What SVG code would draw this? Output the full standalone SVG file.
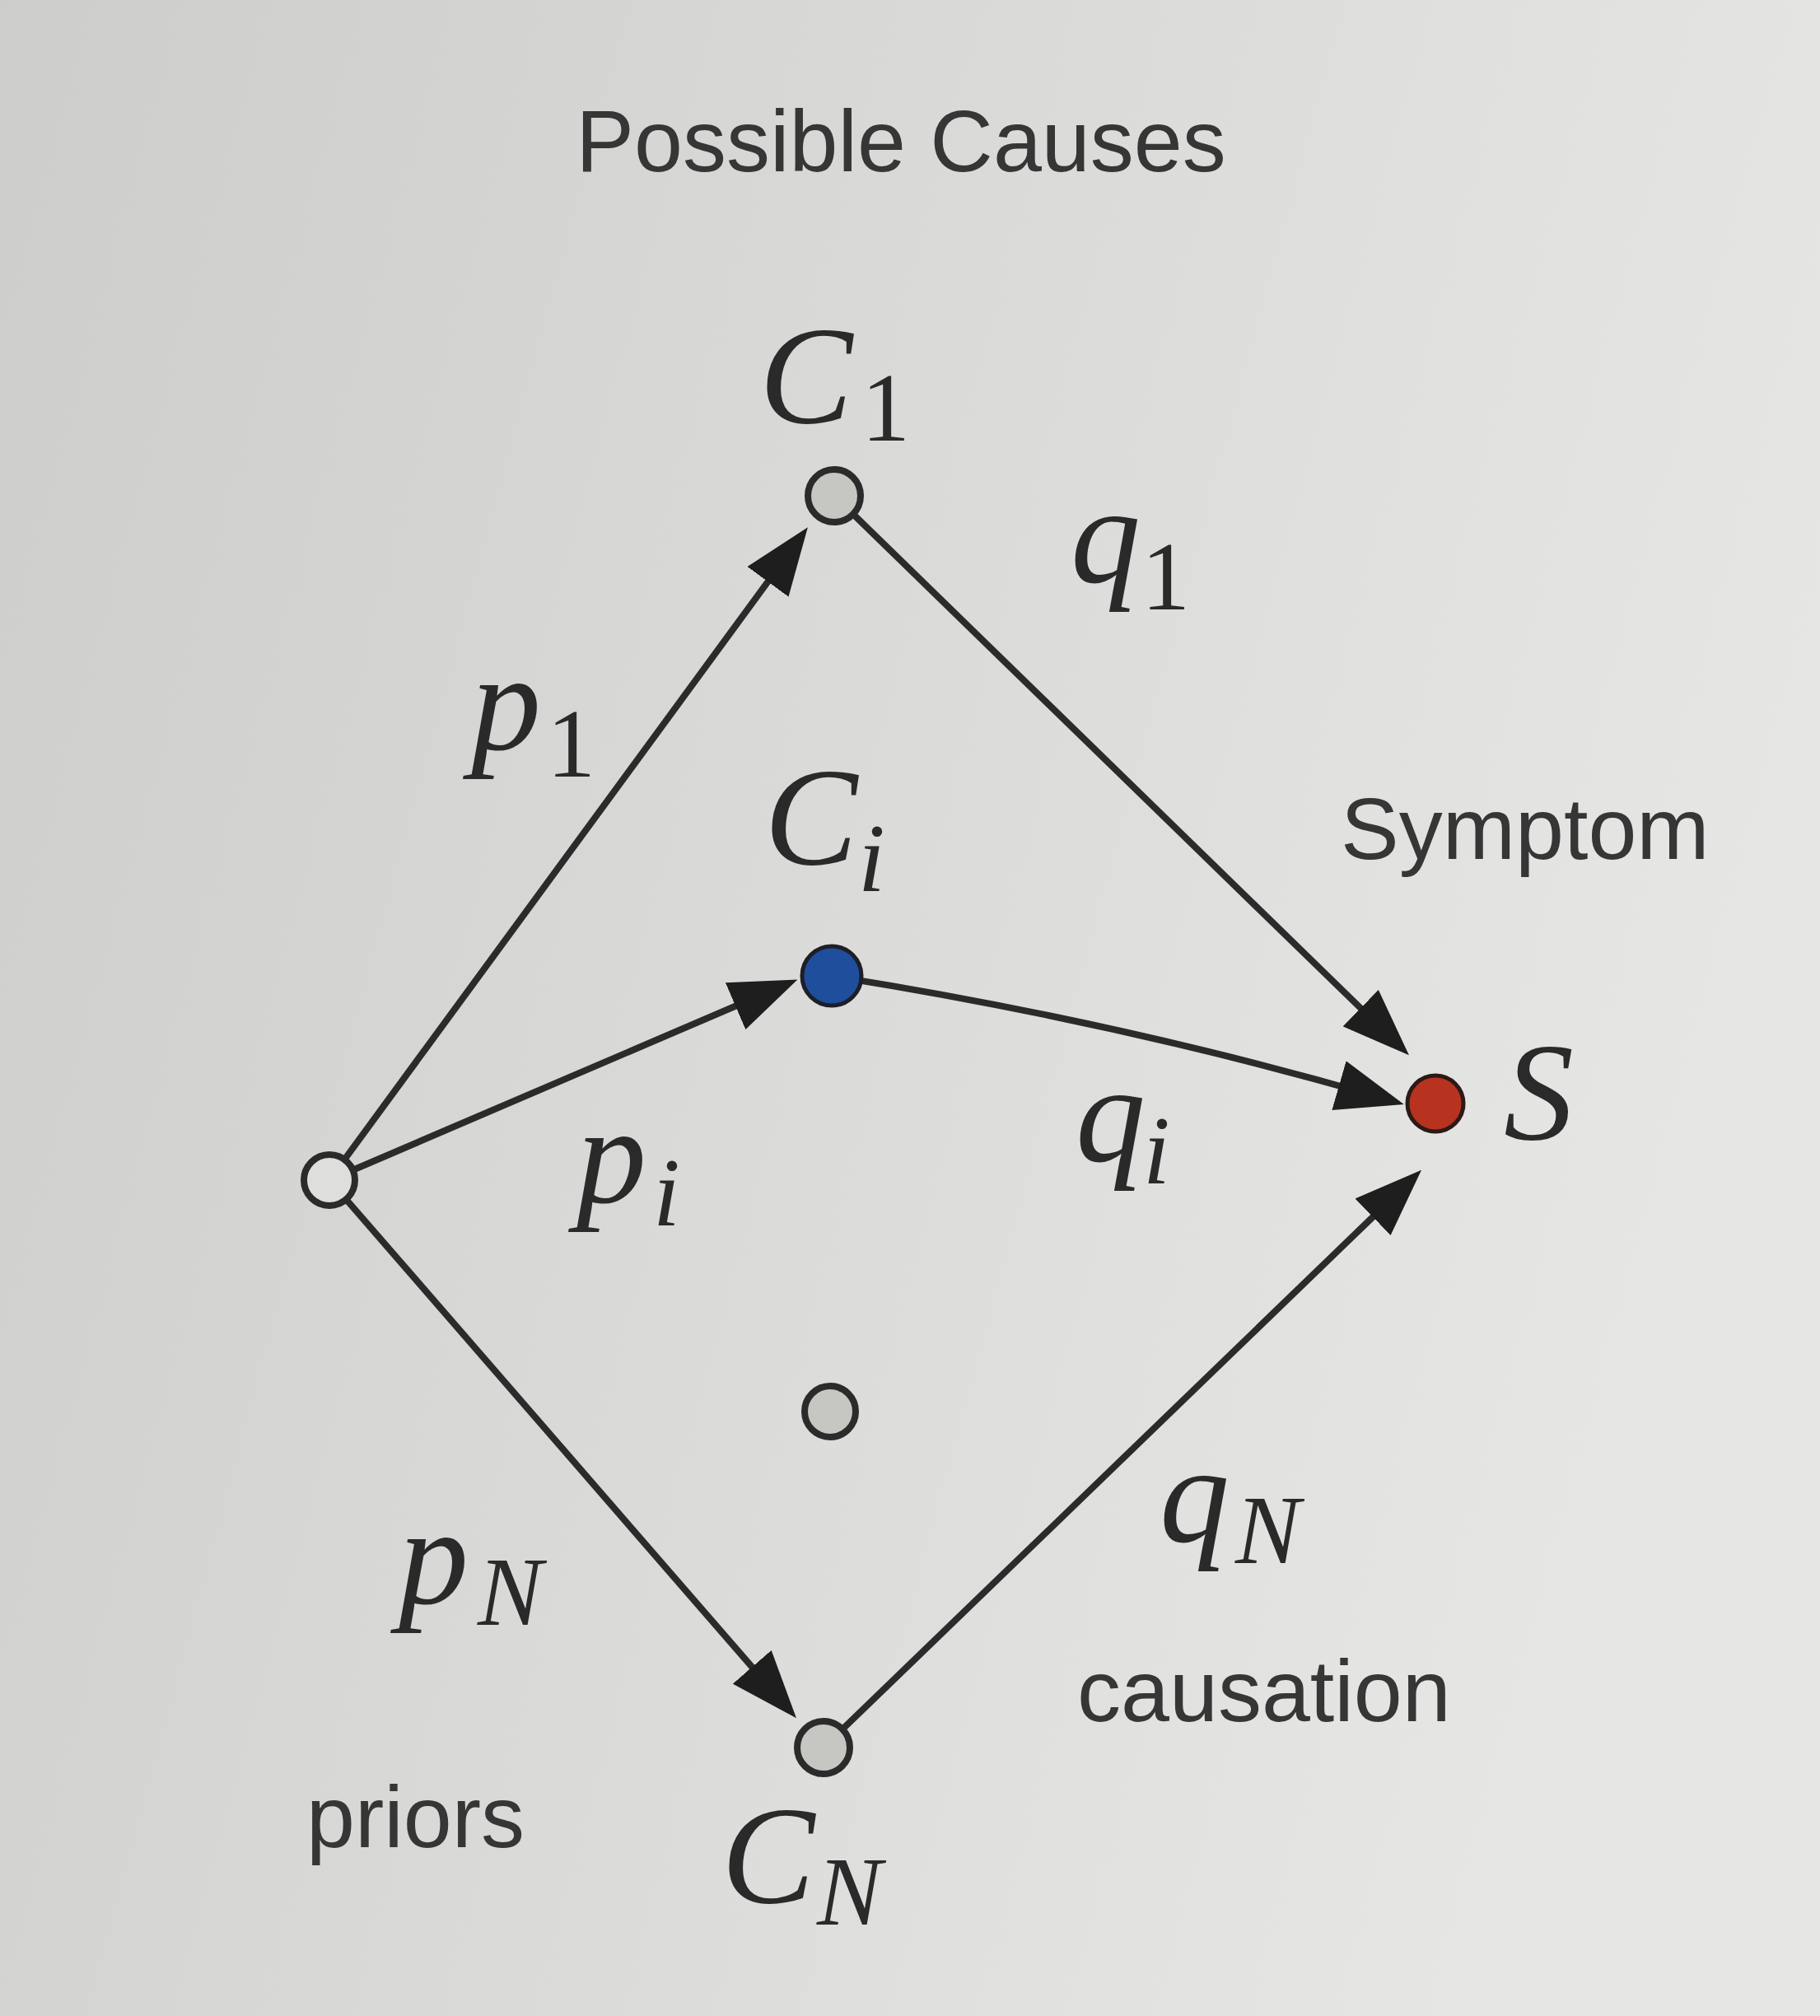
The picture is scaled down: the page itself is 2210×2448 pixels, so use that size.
<svg xmlns="http://www.w3.org/2000/svg" width="2210" height="2448" viewBox="0 0 2210 2448">
  <defs>
    <linearGradient id="paper" x1="0" y1="0" x2="1" y2="0.3">
      <stop offset="0" stop-color="#cdcdcb"/>
      <stop offset="0.6" stop-color="#dcdcda"/>
      <stop offset="1" stop-color="#e6e6e4"/>
    </linearGradient>
    <marker id="arr" markerUnits="userSpaceOnUse" markerWidth="82" markerHeight="62" refX="50" refY="31" orient="auto">
      <path d="M0,0 L82,31 L0,62 Z" fill="#1e1e1e"/>
    </marker>
    <style>
      .edge { fill: none; stroke: #2b2b2b; stroke-width: 8; marker-end: url(#arr); }
      .sans { font-family: "Liberation Sans", Arial, sans-serif; font-size: 106px; fill: #363636; }
      .math { font-family: "Liberation Serif", "DejaVu Serif", serif; font-style: italic; font-size: 170px; fill: #2a2a2a; }
      .sub { font-size: 118px; }
      .up { font-style: normal; }
      .hollow { stroke: #2b2b2b; stroke-width: 8; }
      .grey { fill: #c6c6c3; }
      .white { fill: #dededc; }
    </style>
  </defs>
  <rect x="0" y="0" width="2210" height="2448" fill="url(#paper)"/>

  <g id="title">
    <text class="sans" x="1094" y="208" text-anchor="middle">Possible Causes</text>
  </g>

  <g id="connectors">
    <path class="edge" d="M400,1433 L962,666"/>
    <path class="edge" d="M400,1433 L939,1202"/>
    <path class="edge" d="M400,1433 L946,2062"/>
    <path class="edge" d="M1013,602 L1688,1259"/>
    <path class="edge" d="M1010,1185 Q1356,1240 1674,1332"/>
    <path class="edge" d="M1000,2122 L1703,1443"/>
  </g>

  <g id="edge-labels">
    <text class="math" x="572" y="910">p<tspan class="sub up" x="664" y="943">1</tspan></text>
    <text class="math" x="1300" y="707">q<tspan class="sub up" x="1386" y="740">1</tspan></text>
    <text class="math" x="700" y="1460">p<tspan class="sub" x="793" y="1488">i</tspan></text>
    <text class="math" x="1306" y="1410">q<tspan class="sub" x="1388" y="1437">i</tspan></text>
    <text class="math" x="484" y="1947">p<tspan class="sub" x="580" y="1973">N</tspan></text>
    <text class="math" x="1408" y="1872">q<tspan class="sub" x="1500" y="1898">N</tspan></text>
  </g>

  <g id="node-root">
    <circle class="hollow white" cx="400" cy="1433" r="31"/>
  </g>
  <g id="node-C1">
    <circle class="hollow grey" cx="1013" cy="602" r="32"/>
    <text class="math" x="922" y="513">C<tspan class="sub up" x="1046" y="535">1</tspan></text>
  </g>
  <g id="node-Ci">
    <circle cx="1010" cy="1185" r="36" fill="#1f4e9c" stroke="#1e1e28" stroke-width="5"/>
    <text class="math" x="928" y="1049">C<tspan class="sub" x="1042" y="1082">i</tspan></text>
  </g>
  <g id="node-mid">
    <circle class="hollow grey" cx="1008" cy="1714" r="31"/>
  </g>
  <g id="node-CN">
    <circle class="hollow grey" cx="1000" cy="2122" r="32"/>
    <text class="math" x="876" y="2310">C<tspan class="sub" x="992" y="2337">N</tspan></text>
  </g>
  <g id="node-S">
    <circle cx="1743" cy="1340" r="34" fill="#b83220" stroke="#2a1a18" stroke-width="5"/>
    <text class="math" x="1826" y="1383">S</text>
  </g>

  <g id="labels">
    <text class="sans" x="1628" y="1043">Symptom</text>
    <text class="sans" x="1308" y="2090">causation</text>
    <text class="sans" x="372" y="2243">priors</text>
  </g>
</svg>
